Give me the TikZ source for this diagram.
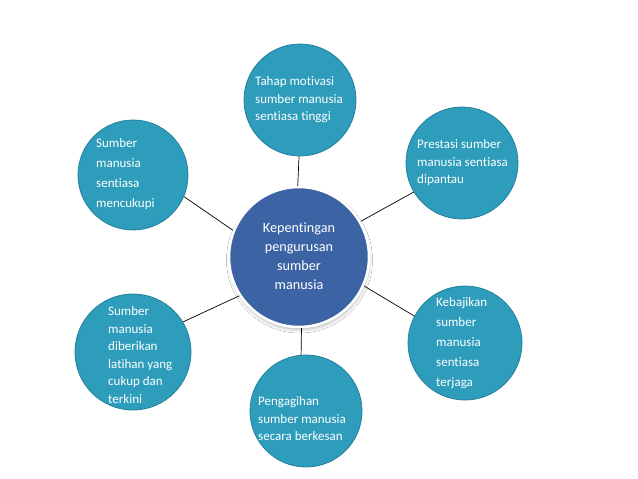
\documentclass[tikz,border=0pt]{standalone}
\usepackage{fontspec}
\setmainfont{Carlito}[Ligatures=NoCommon,RawFeature=-liga]
\usetikzlibrary{shadows.blur}
\definecolor{sat}{HTML}{2E9DBB}
\definecolor{satedge}{HTML}{23819B}
\definecolor{mainblue}{HTML}{3C64A4}
\begin{document}
\begin{tikzpicture}[x=1pt,y=1pt,
  satcircle/.style={circle,fill=sat,draw=satedge,line width=0.8pt,inner sep=0pt},
  maincircle/.style={circle,fill=mainblue,draw=white,line width=2.5pt,inner sep=0pt,
     blur shadow={shadow xshift=0.5pt,shadow yshift=-3pt,shadow blur radius=3pt,shadow blur steps=6,shadow opacity=25}},
  sattext/.style={text=white,align=left,anchor=west,inner sep=0pt,font=\fontsize{13}{17.5}\selectfont},
  sattextwide/.style={sattext,font=\fontsize{13}{20}\selectfont},
  maintext/.style={text=white,align=center,inner sep=0pt,font=\fontsize{14.2}{19}\selectfont},
  link/.style={draw=black,line width=0.7pt}]
\useasboundingbox (0,0) rectangle (638,-479);
\fill[white] (0,0) rectangle (638,-479);
% satellites
\node[satcircle,minimum size=112pt] (T)  at (300,-100) {};
\node[satcircle,minimum size=112pt] (TR) at (462,-163) {};
\node[satcircle,minimum size=110pt] (TL) at (133,-175) {};
\node[satcircle,minimum size=116pt] (BL) at (133,-352) {};
\node[satcircle,minimum size=114pt] (BR) at (465,-343) {};
\node[satcircle,minimum size=112pt] (B)  at (306,-411) {};
% main
\node[maincircle,minimum size=140pt] (M) at (299,-257) {};
% connectors
\draw[link] (T.-91) -- (M.91);
\draw[link] (M.30) -- (TR.211);
\draw[link] (M.-24) -- (BR.152);
\draw[link] (M.-88) -- (B.95);
\draw[link] (M.213) -- (BL.31);
\draw[link] (M.158) -- (TL.-23);
% texts
\node[sattext] (tT) at (255,-100) {Tahap motivasi\\sumber manusia\\sentiasa tinggi};
\node[sattext] (tTR) at (417,-163) {Prestasi sumber\\manusia sentiasa\\dipantau};
\node[sattextwide] (tTL) at (96,-174) {Sumber\\manusia\\sentiasa\\mencukupi};
\node[sattext] (tBL) at (108,-355) {Sumber\\manusia\\diberikan\\latihan yang\\cukup dan\\terkini};
\node[sattextwide] (tBR) at (436,-343) {Kebajikan\\sumber\\manusia\\sentiasa\\terjaga};
\node[sattext] (tB) at (258,-419) {Pengagihan\\sumber manusia\\secara berkesan};
\node[maintext] (tM) at (299,-256) {Kepentingan\\pengurusan\\sumber\\manusia};
\end{tikzpicture}
\end{document}
